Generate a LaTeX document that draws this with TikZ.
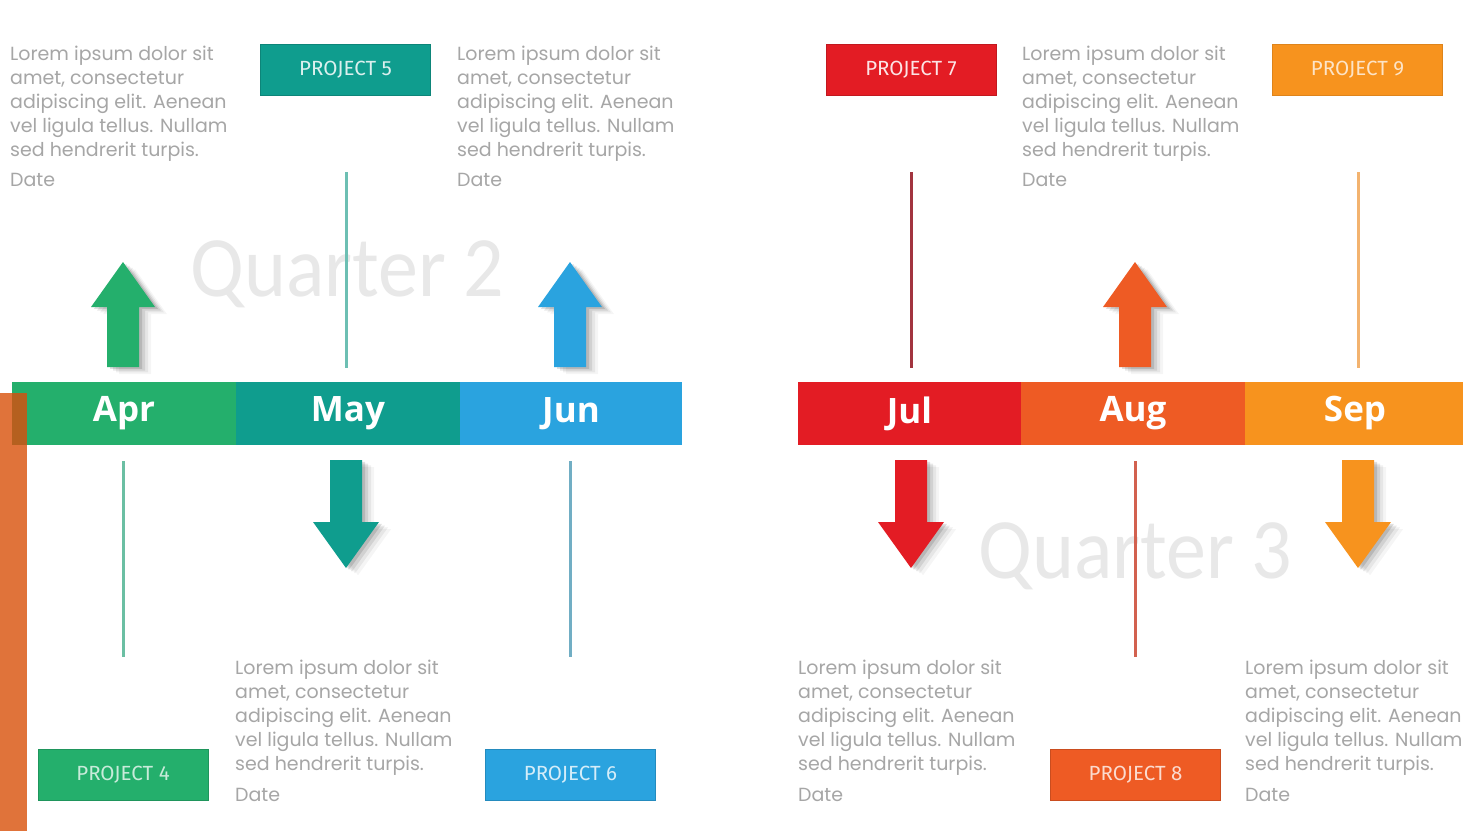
\documentclass[tikz,border=0pt]{standalone}
\usepackage{fontspec}
\setmainfont{Poppins}
\newfontfamily\monthfont{Open Sans}
\newfontfamily\projfont{Fira Sans}
\newfontfamily\quarterfont{Carlito}[FakeStretch=0.93]
\definecolor{cApr}{HTML}{24AF6C}
\definecolor{cMay}{HTML}{0F9D8E}
\definecolor{cJun}{HTML}{2AA3DF}
\definecolor{cJul}{HTML}{E31C24}
\definecolor{cAug}{HTML}{EE5B24}
\definecolor{cSep}{HTML}{F7931E}
\definecolor{txtgray}{HTML}{A6A6A6}
\definecolor{qgray}{HTML}{E8E8E8}
\definecolor{strip}{HTML}{E0733A}
\definecolor{stripdark}{HTML}{B5601F}
\definecolor{lMay}{HTML}{6DBFB3}
\definecolor{lJul}{HTML}{A2343F}
\definecolor{lSep}{HTML}{F3B36F}
\definecolor{lApr}{HTML}{6BBFA3}
\definecolor{lJun}{HTML}{71AEC4}
\definecolor{lAug}{HTML}{D2614F}
\tikzset{
  monthseg/.style={minimum height=63pt, inner sep=0pt, text=white,
    font=\monthfont\bfseries\fontsize{35}{40}\selectfont},
  projbox/.style={minimum width=170pt, minimum height=51pt, inner sep=0pt,
    font=\projfont\fontsize{20.5}{24}\selectfont},
  para/.style={anchor=north west, inner sep=0pt, align=left, text=txtgray,
    font=\fontsize{19}{24}\selectfont},
  datetxt/.style={anchor=base west, inner sep=0pt, text=txtgray,
    font=\fontsize{19}{24}\selectfont},
  quarter/.style={anchor=base west, inner sep=0pt, text=qgray,
    font=\quarterfont\fontsize{86}{90}\selectfont},
  guide/.style={line width=3pt},
  uparr/.pic={
    \foreach \o/\op in {12/0.04,9/0.06,6/0.09,3/0.12}{
      \fill[black,opacity=\op,shift={(\o,\o*0.6)}] (0,0) -- (32,45) -- (16,45) -- (16,105) -- (-16,105) -- (-16,45) -- (-32,45) -- cycle;
    }
    \fill[pic actions] (0,0) -- (32,45) -- (16,45) -- (16,105) -- (-16,105) -- (-16,45) -- (-32,45) -- cycle;
  },
  downarr/.pic={
    \foreach \o/\op in {12/0.04,9/0.06,6/0.09,3/0.12}{
      \fill[black,opacity=\op,shift={(\o,\o*0.6)}] (-16,0) -- (16,0) -- (16,62) -- (33,62) -- (0,108) -- (-33,62) -- (-16,62) -- cycle;
    }
    \fill[pic actions] (-16,0) -- (16,0) -- (16,62) -- (33,62) -- (0,108) -- (-33,62) -- (-16,62) -- cycle;
  }
}
\newcommand{\loremtxt}{Lorem ipsum dolor sit\\amet, consectetur\\adipiscing elit. Aenean\\vel ligula tellus. Nullam\\sed hendrerit turpis.}
\begin{document}
\begin{tikzpicture}[x=1pt,y=-1pt]
\useasboundingbox (0,0) rectangle (1463,831);
\clip (0,0) rectangle (1463,831);
\fill[white] (0,0) rectangle (1463,831);

% watermarks
\node[quarter] (q2) at (190,296) {Quarter 2};
\node[quarter] (q3) at (978,578) {Quarter 3};

% guide lines
\coordinate (mayT) at (346,172); \coordinate (mayB) at (346,368);
\coordinate (julT) at (911,172); \coordinate (julB) at (911,368);
\coordinate (sepT) at (1358,172); \coordinate (sepB) at (1358,368);
\coordinate (aprT) at (123,461); \coordinate (aprB) at (123,657);
\coordinate (junT) at (570,461); \coordinate (junB) at (570,657);
\coordinate (augT) at (1135,461); \coordinate (augB) at (1135,657);
\draw[guide,lMay] (mayT) -- (mayB);
\draw[guide,lJul] (julT) -- (julB);
\draw[guide,lSep] (sepT) -- (sepB);
\draw[guide,lApr] (aprT) -- (aprB);
\draw[guide,lJun] (junT) -- (junB);
\draw[guide,lAug] (augT) -- (augB);

% arrows
\pic[fill=cApr] at (123,262) {uparr};
\pic[fill=cJun] at (570,262) {uparr};
\pic[fill=cAug] at (1135,262) {uparr};
\pic[fill=cMay] at (346,460) {downarr};
\pic[fill=cJul] at (911,460) {downarr};
\pic[fill=cSep] at (1358,460) {downarr};

% month bar
\node[monthseg, fill=cApr, minimum width=224pt] (apr) at (124,413.5) {Apr};
\node[monthseg, fill=cMay, minimum width=224pt] (may) at (348,413.5) {May};
\node[monthseg, fill=cJun, minimum width=222pt] (jun) at (571,413.5) {Jun};
\node[monthseg, fill=cJul, minimum width=223pt] (jul) at (909.5,413.5) {Jul};
\node[monthseg, fill=cAug, minimum width=224pt] (aug) at (1133,413.5) {Aug};
\node[monthseg, fill=cSep, minimum width=220pt] (sep) at (1355,413.5) {Sep};

% project boxes
\node[projbox, fill=cMay, draw=cMay!85!black, text=white!85!cMay] (p5) at (345.5,69.5) {PROJECT 5};
\node[projbox, fill=cJul, draw=cJul!85!black, text=white!88!cJul] (p7) at (911,69.5) {PROJECT 7};
\node[projbox, fill=cSep, draw=cSep!90!black, text=white!75!cSep] (p9) at (1357.5,69.5) {PROJECT 9};
\node[projbox, fill=cApr, draw=cApr!85!black, text=white!75!cApr] (p4) at (123,775) {PROJECT 4};
\node[projbox, fill=cJun, draw=cJun!85!black, text=white!80!cJun] (p6) at (570.5,775) {PROJECT 6};
\node[projbox, fill=cAug, draw=cAug!85!black, text=white!78!cAug] (p8) at (1135.5,775) {PROJECT 8};

% paragraphs
\node[para] (t1) at (10,45.5) {\loremtxt};
\node[datetxt] (d1) at (10,186) {Date};
\node[para] (t2) at (457,45.5) {\loremtxt};
\node[datetxt] (d2) at (457,186) {Date};
\node[para] (t3) at (1022,45.5) {\loremtxt};
\node[datetxt] (d3) at (1022,186) {Date};
\node[para] (t4) at (235,659.5) {\loremtxt};
\node[datetxt] (d4) at (235,801) {Date};
\node[para] (t5) at (798,659.5) {\loremtxt};
\node[datetxt] (d5) at (798,801) {Date};
\node[para] (t6) at (1245,659.5) {\loremtxt};
\node[datetxt] (d6) at (1245,801) {Date};

% left strip
\fill[strip] (0,393) rectangle (27,831);
\fill[stripdark] (12,393) rectangle (27,445);
\end{tikzpicture}
\end{document}
